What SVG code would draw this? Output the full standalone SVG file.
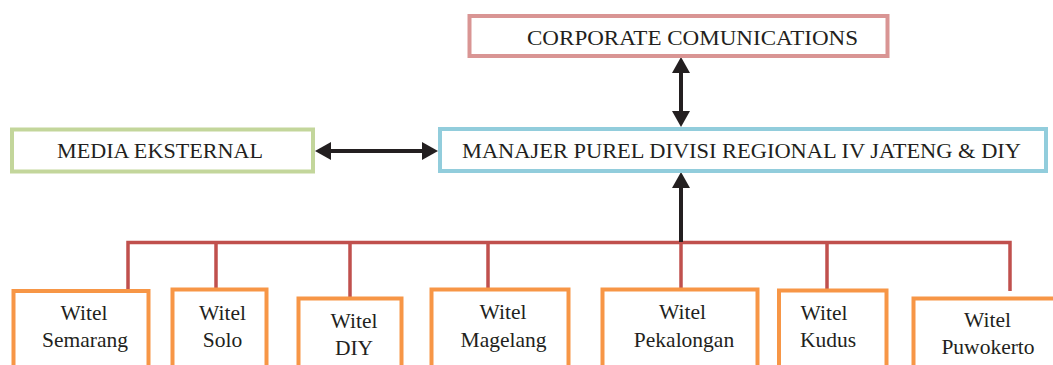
<svg xmlns="http://www.w3.org/2000/svg" width="1053" height="365" viewBox="0 0 1053 365">
<defs>
<style>
.t{font-family:"Liberation Serif","Times New Roman",serif;fill:#231f20;text-anchor:middle}
.big{font-size:22px}
.w{font-size:21.5px}
.box{fill:#fff;stroke-width:4}
.wb{fill:#fff;stroke:#f79646;stroke-width:4}
.bus{fill:none;stroke:#c0504d;stroke-width:3.5}
.arr{fill:none;stroke:#231f20;stroke-width:4}
</style>
<marker id="ah" viewBox="0 0 16 18" markerWidth="16" markerHeight="18" refX="6" refY="9" orient="auto-start-reverse" markerUnits="userSpaceOnUse">
<path d="M0,0 L16,9 L0,18 z" fill="#231f20"/>
</marker>
</defs>
<g id="connectors">
<path class="bus" d="M128,290 V242.5 H1010 V291 M216,242.5 V289 M350,242.5 V298 M488,242.5 V289 M681,242.5 V289 M827,242.5 V289"/>
<line class="arr" x1="681" y1="67" x2="681" y2="117" marker-start="url(#ah)" marker-end="url(#ah)"/>
<line class="arr" x1="325" y1="151" x2="428" y2="151" marker-start="url(#ah)" marker-end="url(#ah)"/>
<line class="arr" x1="681" y1="242" x2="681" y2="182" marker-end="url(#ah)"/>
</g>
<g id="corporate">
<rect class="box" x="469.5" y="16" width="418" height="40" stroke="#d99594"/>
<text class="t big" x="692.5" y="45" textLength="331" lengthAdjust="spacingAndGlyphs">CORPORATE COMUNICATIONS</text>
</g>
<g id="media">
<rect class="box" x="12" y="129.5" width="301" height="42" stroke="#c3d69b"/>
<text class="t big" x="160" y="158" textLength="206" lengthAdjust="spacingAndGlyphs">MEDIA EKSTERNAL</text>
</g>
<g id="manajer">
<rect class="box" x="440" y="129" width="606" height="42" stroke="#92cddc"/>
<text class="t big" x="741.5" y="158" textLength="559" lengthAdjust="spacingAndGlyphs">MANAJER PUREL DIVISI REGIONAL IV JATENG &amp; DIY</text>
</g>
<g id="semarang">
<rect class="wb" x="13.5" y="291" width="135" height="90"/>
<text class="t w" x="84" y="320">Witel</text>
<text class="t w" x="85" y="347">Semarang</text>
</g>
<g id="solo">
<rect class="wb" x="172.5" y="289.5" width="94" height="90"/>
<text class="t w" x="222.5" y="320">Witel</text>
<text class="t w" x="222.5" y="347">Solo</text>
</g>
<g id="diy">
<rect class="wb" x="298.5" y="298.5" width="103" height="90"/>
<text class="t w" x="354" y="328">Witel</text>
<text class="t w" x="354" y="355">DIY</text>
</g>
<g id="magelang">
<rect class="wb" x="431.5" y="289.5" width="137" height="90"/>
<text class="t w" x="503" y="319">Witel</text>
<text class="t w" x="503.5" y="347">Magelang</text>
</g>
<g id="pekalongan">
<rect class="wb" x="602.5" y="289.5" width="155" height="90"/>
<text class="t w" x="682.5" y="319">Witel</text>
<text class="t w" x="684" y="347">Pekalongan</text>
</g>
<g id="kudus">
<rect class="wb" x="779" y="290.5" width="107.5" height="90"/>
<text class="t w" x="824" y="320">Witel</text>
<text class="t w" x="828" y="347">Kudus</text>
</g>
<g id="puwokerto">
<rect class="wb" x="913.5" y="298.5" width="145" height="90"/>
<text class="t w" x="987.5" y="327">Witel</text>
<text class="t w" x="988" y="354">Puwokerto</text>
</g>
</svg>
